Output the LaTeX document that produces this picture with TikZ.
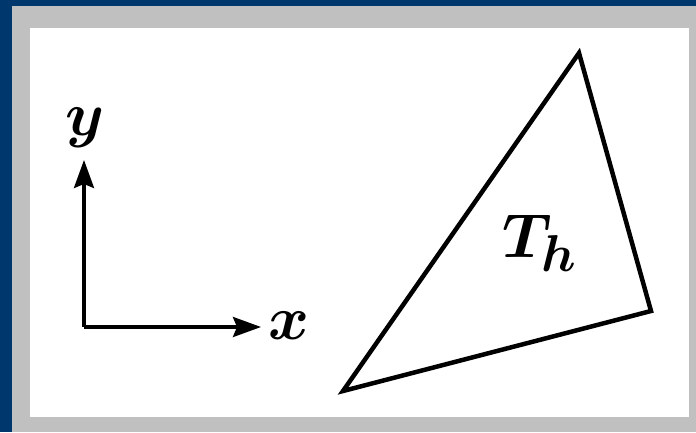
\documentclass[tikz,border=0pt]{standalone}
\usepackage{amsmath}
\usetikzlibrary{arrows.meta}
\definecolor{frameblue}{RGB}{0,56,110}
\definecolor{framegrey}{RGB}{192,192,192}
\tikzset{
  axis/.style={line width=3.5pt,-{Stealth[length=28pt,width=20pt,inset=4pt]}},
  tri/.style={line width=4.5pt,line join=miter},
  lbl/.style={inner sep=0pt,font=\Huge,scale=2.5}
}
\begin{document}
\begin{tikzpicture}[x=1pt,y=-1pt]
\fill[frameblue] (0,0) rectangle (696,432);
\fill[framegrey] (12,6) rectangle (696,432);
\fill[white] (30,28) rectangle (689,417);
\useasboundingbox (0,0) rectangle (696,432);
\coordinate (o) at (84,327);
\coordinate (ytip) at (84,160);
\coordinate (xtip) at (261,327);
\draw[axis] (o) -- (ytip);
\draw[axis] (o) -- (xtip);
\node[lbl] (ylab) at (85,128) {$\boldsymbol{y}$};
\node[lbl] (xlab) at (289,326) {$\boldsymbol{x}$};
\coordinate (a) at (579,53);
\coordinate (b) at (651,311);
\coordinate (c) at (343,391);
\draw[tri] (a) -- (b) -- (c) -- cycle;
\node[lbl] (th) at (540,243) {$\boldsymbol{T_h}$};
\end{tikzpicture}
\end{document}
